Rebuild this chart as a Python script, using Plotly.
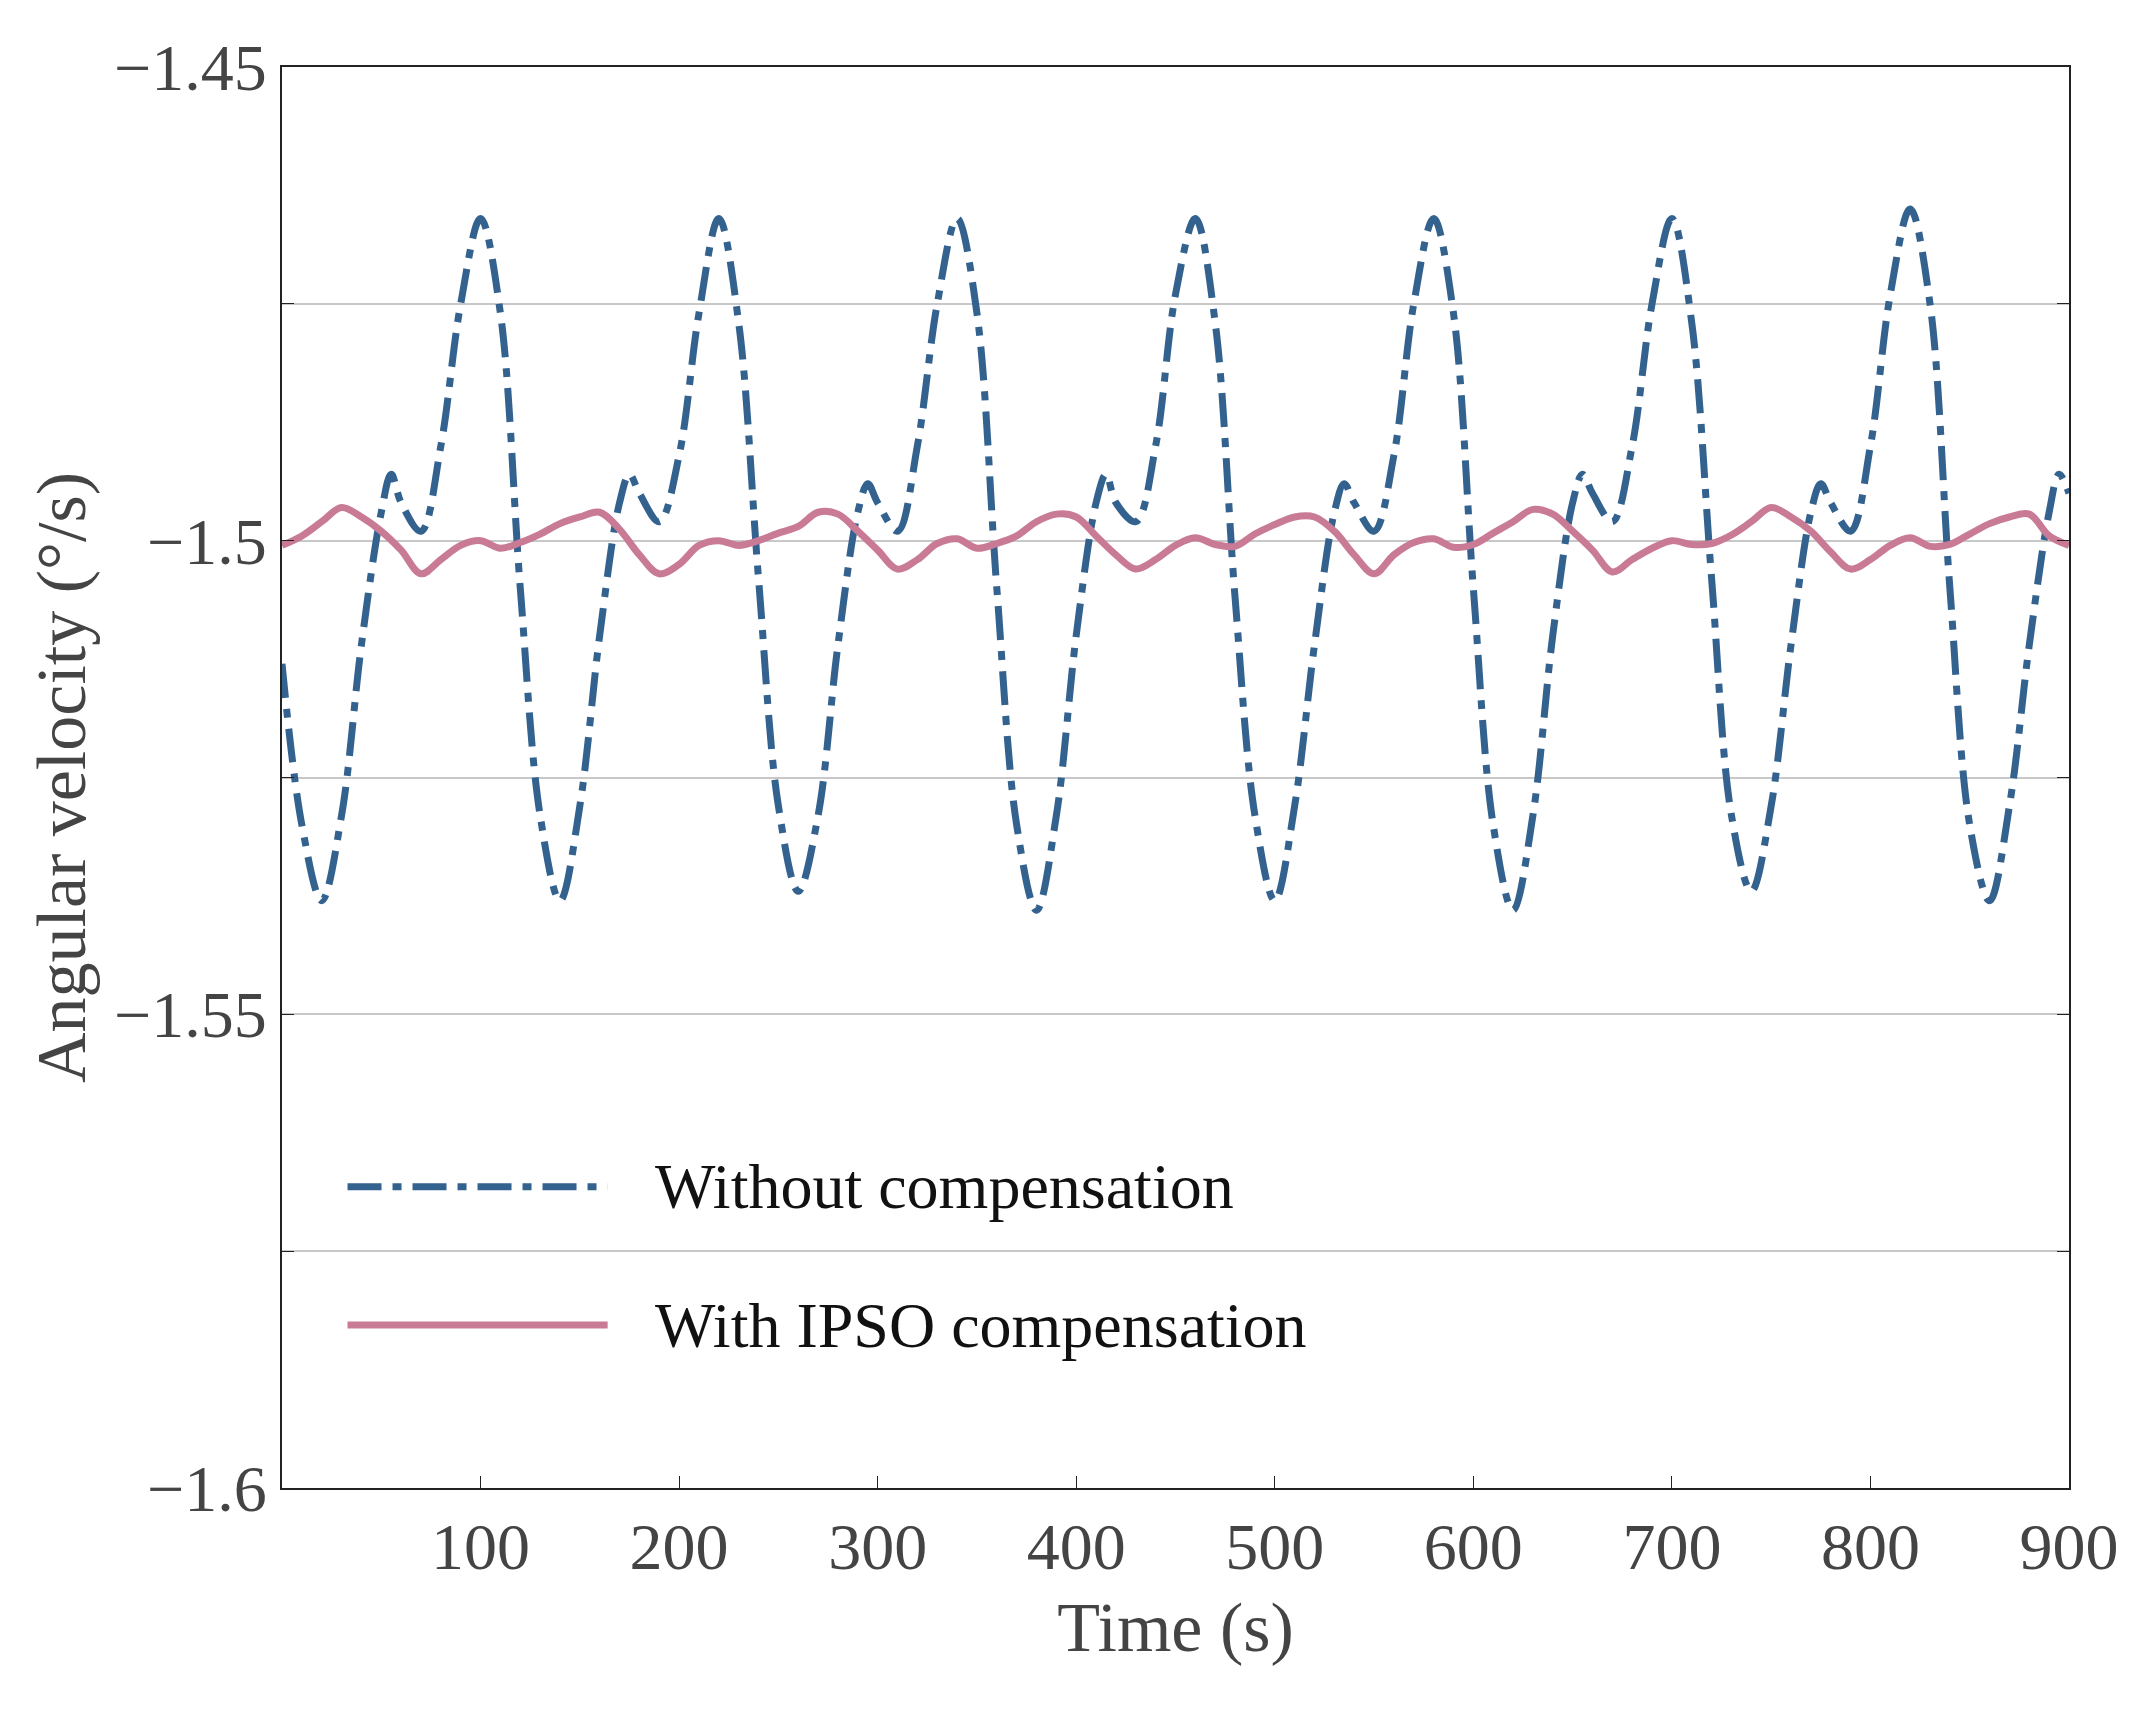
import plotly.graph_objects as go

# Without compensation
t_blue = []
v_blue = []
offs = [0, 10, 20, 30, 40, 50, 55, 60, 70, 80, 90, 100, 110]
cycles = [
    [-1.513, -1.530, -1.538, -1.529, -1.511, -1.497, -1.493, -1.496, -1.499, -1.490, -1.475, -1.466, -1.476],
    [-1.505, -1.529, -1.538, -1.528, -1.510, -1.496, -1.493, -1.495, -1.498, -1.491, -1.476, -1.466, -1.477],
    [-1.504, -1.528, -1.537, -1.529, -1.511, -1.497, -1.494, -1.496, -1.499, -1.490, -1.475, -1.466, -1.476],
    [-1.505, -1.530, -1.539, -1.529, -1.510, -1.496, -1.493, -1.496, -1.498, -1.490, -1.474, -1.466, -1.477],
    [-1.506, -1.529, -1.538, -1.528, -1.511, -1.497, -1.494, -1.496, -1.499, -1.491, -1.475, -1.466, -1.476],
    [-1.505, -1.530, -1.539, -1.529, -1.510, -1.496, -1.493, -1.495, -1.498, -1.490, -1.475, -1.466, -1.477],
    [-1.504, -1.529, -1.537, -1.528, -1.511, -1.497, -1.494, -1.496, -1.499, -1.490, -1.474, -1.465, -1.475],
    [-1.505, -1.530, -1.538, -1.528, -1.511, -1.497, -1.493, -1.495],
]
for k, vals in enumerate(cycles):
    for o, v in zip(offs, vals):
        t_blue.append(120 * k + o)
        v_blue.append(v)

# With IPSO compensation
t_pink = list(range(0, 901, 10))
v_pink = [
    -1.5005, -1.4995, -1.498, -1.4965, -1.4975, -1.499, -1.501, -1.5035, -1.502, -1.5005, -1.5, -1.5008,
    -1.5002, -1.4993, -1.4982, -1.4975, -1.497, -1.4988, -1.5015, -1.5035, -1.5025, -1.5005, -1.5, -1.5005,
    -1.5, -1.4992, -1.4985, -1.497, -1.4972, -1.499, -1.501, -1.503, -1.502, -1.5003, -1.4998, -1.5008,
    -1.5003, -1.4995, -1.498, -1.4972, -1.4975, -1.4995, -1.5015, -1.503, -1.502, -1.5005, -1.4997, -1.5004,
    -1.5006, -1.4993, -1.4983, -1.4975, -1.4975, -1.499, -1.5015, -1.5035, -1.5015, -1.5002, -1.4998, -1.5007,
    -1.5004, -1.4992, -1.498, -1.4967, -1.4972, -1.499, -1.501, -1.5033, -1.502, -1.5008, -1.5, -1.5004,
    -1.5003, -1.4994, -1.498, -1.4965, -1.4975, -1.499, -1.5012, -1.503, -1.502, -1.5005, -1.4997, -1.5006,
    -1.5004, -1.4993, -1.4982, -1.4975, -1.4972, -1.4995, -1.5005,
]

blue = "#34628f"
pink = "#c97a95"
font = "Liberation Serif"
dash = "34px,11px,9px,11px"

fig = go.Figure()
fig.add_trace(go.Scatter(x=t_blue, y=v_blue, mode="lines", line=dict(color=blue, width=7, dash=dash, shape="spline", smoothing=1.0), showlegend=False))
fig.add_trace(go.Scatter(x=t_pink, y=v_pink, mode="lines", line=dict(color=pink, width=7, shape="spline", smoothing=1.0), showlegend=False))

# manual legend
leg = [("Without compensation", blue, dash, -1.5682), ("With IPSO compensation", pink, "solid", -1.5828)]
for name, c, d, y in leg:
    fig.add_trace(go.Scatter(x=[33, 164], y=[y, y], mode="lines", line=dict(color=c, width=7, dash=d), showlegend=False, hoverinfo="skip"))
    fig.add_annotation(x=187, y=y, text=name, showarrow=False, xanchor="left", yanchor="middle", font=dict(family=font, size=64, color="#111"))

yvals = [-1.6, -1.575, -1.55, -1.525, -1.5, -1.475, -1.45]
ytext = ["−1.6", "", "−1.55", "", "−1.5", "", "−1.45"]
xvals = [100, 200, 300, 400, 500, 600, 700, 800, 900]

fig.update_layout(
    width=2145, height=1718, plot_bgcolor="white", paper_bgcolor="white",
    margin=dict(l=274, r=84, t=59, b=238),
    font=dict(family=font, size=66, color="#444"),
)
fig.update_xaxes(range=[0, 900], tickvals=xvals, ticktext=[str(v) for v in xvals],
                 showgrid=False, showline=True, linecolor="#222", linewidth=2, mirror=True,
                 ticks="inside", ticklen=12, tickcolor="#222",
                 title=dict(text="Time (s)", font=dict(size=70, color="#444"), standoff=20), zeroline=False)
fig.update_yaxes(range=[-1.6, -1.45], tickvals=yvals, ticktext=ytext,
                 showgrid=True, gridcolor="#c8c8c8", gridwidth=2,
                 showline=True, linecolor="#222", linewidth=2, mirror="ticks",
                 ticks="inside", ticklen=12, tickcolor="#222",
                 title=dict(text="Angular velocity (°/s)", font=dict(size=70, color="#444"), standoff=6), zeroline=False)
fig.write_html("out.html")
